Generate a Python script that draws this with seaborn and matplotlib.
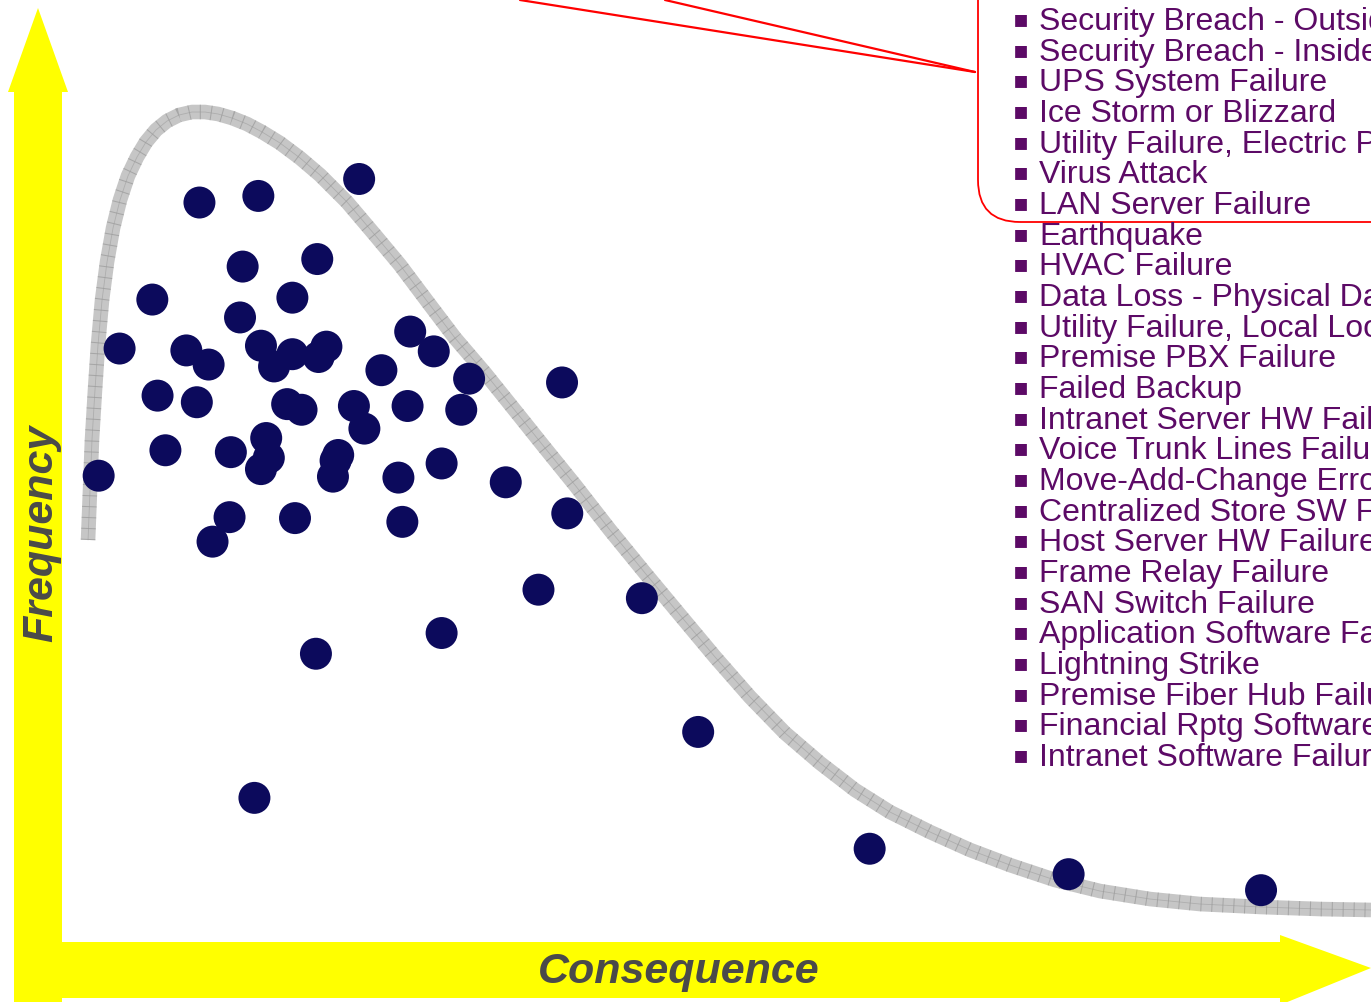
import matplotlib
matplotlib.use("Agg")
import matplotlib.pyplot as plt
from matplotlib.patches import Polygon, FancyBboxPatch
import pandas as pd
import seaborn as sns

# --- dados (consequencia x frequencia, escala 0-100) ---
consequence = [22.7, 10.5, 15.0, 13.8, 19.5, 6.9, 17.6, 13.6, 26.6, 4.4,
               9.5, 11.2, 15.2, 16.2, 17.6, 19.6, 20.2, 28.4, 24.4, 31.1,
               38.2, 7.3, 10.3, 17.2, 18.3, 22.3, 26.4, 30.5, 23.1, 15.6,
               7.9, 12.9, 15.8, 15.2, 21.1, 20.9, 20.7, 29.0, 25.7, 33.9,
               2.8, 12.8, 17.8, 11.5, 26.0, 38.6, 36.4, 44.3, 29.0, 19.4,
               48.6, 14.7, 61.7, 76.9, 91.6]
frequency = [81.0, 78.5, 79.2, 71.7, 72.5, 68.2, 68.4, 66.3, 64.8, 63.0,
             62.8, 61.3, 63.3, 61.1, 62.4, 62.1, 63.2, 62.7, 60.7, 59.8,
             59.4, 58.0, 57.3, 57.1, 56.5, 56.9, 56.9, 56.5, 54.5, 53.5,
             52.2, 52.0, 51.4, 50.2, 51.7, 51.1, 49.4, 50.8, 49.3, 48.8,
             49.5, 45.1, 45.0, 42.5, 44.6, 45.5, 37.4, 36.5, 32.8, 30.6,
             22.3, 15.3, 9.9, 7.2, 5.5]

# curva de tendencia (faixa cinza)
curve_x = [1.99, 2.14, 2.29, 2.52, 2.75, 3.06, 3.44, 3.90, 4.43, 5.04,
           5.73, 6.42, 7.18, 8.02, 8.94, 9.93, 10.92, 11.92, 12.99, 14.13,
           15.28, 16.65, 18.18, 19.71, 21.77, 23.91, 25.82, 27.88, 30.02,
           32.31, 34.76, 36.90, 39.19, 41.86, 44.54, 47.21, 49.89, 52.56,
           55.23, 57.91, 60.58, 63.25, 66.31, 69.37, 72.42, 75.86, 79.30,
           83.12, 86.94, 91.52, 96.10, 100.0]
curve_y = [42.68, 47.98, 53.29, 58.60, 63.38, 68.15, 72.19, 75.80, 78.77,
           81.32, 83.33, 84.93, 86.20, 87.15, 87.79, 88.11, 88.11, 87.90,
           87.47, 86.84, 85.99, 84.82, 83.23, 81.42, 78.56, 75.05, 71.87,
           68.05, 64.12, 60.40, 56.16, 52.44, 48.51, 43.74, 39.17, 34.71,
           30.25, 26.01, 22.19, 19.00, 16.14, 13.80, 11.68, 9.77, 8.17, 6.58,
           5.41, 4.56, 4.03, 3.72, 3.50, 3.40]

risks = ["Security Breach - Outside", "Security Breach - Inside",
         "UPS System Failure", "Ice Storm or Blizzard",
         "Utility Failure, Electric Power", "Virus Attack",
         "LAN Server Failure", "Earthquake", "HVAC Failure",
         "Data Loss - Physical Damage", "Utility Failure, Local Loop",
         "Premise PBX Failure", "Failed Backup", "Intranet Server HW Failure",
         "Voice Trunk Lines Failure", "Move-Add-Change Error",
         "Centralized Store SW Failure", "Host Server HW Failure",
         "Frame Relay Failure", "SAN Switch Failure",
         "Application Software Failure", "Lightning Strike",
         "Premise Fiber Hub Failure", "Financial Rptg Software Failure",
         "Intranet Software Failure"]

YELLOW = "#ffff00"
NAVY = "#0c0a5c"
PURPLE = "#5c0a66"
LABEL_GREY = "#4a4a4a"


def main():
    sns.set_theme(style="white")
    plt.rcParams["font.family"] = ["Liberation Sans", "DejaVu Sans"]

    W, H = 13.71, 10.02
    fig = plt.figure(figsize=(W, H), dpi=100)
    fig.patch.set_facecolor("white")
    inch = fig.dpi_scale_trans

    def yx(px, py):
        # pixel (topo-esquerda) -> polegadas
        return (px / 100, H - py / 100)

    # --- setas amarelas (eixos) ---
    y_arrow = [yx(14, 1002), yx(14, 92), yx(8, 92), yx(38, 8),
               yx(68, 92), yx(62, 92), yx(62, 1002)]
    x_arrow = [yx(14, 942), yx(1280, 942), yx(1280, 935), yx(1371, 968),
               yx(1280, 1005), yx(1280, 998), yx(14, 998)]
    for pts in (y_arrow, x_arrow):
        fig.patches.append(Polygon(pts, closed=True, facecolor=YELLOW,
                                   edgecolor="none", transform=inch, zorder=0))

    fig.text(41 / 1371, 1 - 533 / 1002, "Frequency", rotation=90,
             ha="center", va="center", fontsize=31, fontweight="bold",
             fontstyle="italic", color=LABEL_GREY)
    fig.text(679 / 1371, 1 - 972 / 1002, "Consequence",
             ha="center", va="center", fontsize=31, fontweight="bold",
             fontstyle="italic", color=LABEL_GREY)

    # --- area de dados ---
    ax = fig.add_axes([62 / 1371, 60 / 1002, 1309 / 1371, 942 / 1002])
    ax.set_xlim(0, 100)
    ax.set_ylim(0, 100)
    ax.set_axis_off()
    ax.patch.set_alpha(0)

    curve = pd.DataFrame({"x": curve_x, "y": curve_y})
    sns.lineplot(data=curve, x="x", y="y", sort=False, estimator=None,
                 color="#c6c6c6", linewidth=10.5, ax=ax, zorder=1,
                 solid_capstyle="butt", solid_joinstyle="round")
    # textura quadriculada da faixa
    ax.plot(curve_x, curve_y, color="#8c8c8c", linewidth=10.5, alpha=0.55,
            linestyle=(0, (0.07, 0.68)), dash_capstyle="butt", zorder=1.1)
    ax.plot(curve_x, curve_y, color="#9a9a9a", linewidth=0.6, alpha=0.55,
            zorder=1.2)

    pts = pd.DataFrame({"consequence": consequence, "frequency": frequency})
    sns.scatterplot(data=pts, x="consequence", y="frequency", s=530,
                    color=NAVY, edgecolor="none", ax=ax, zorder=3,
                    clip_on=False)

    # --- balao vermelho ---
    box = FancyBboxPatch((9.78, H - 2.22), 6.0, 4.0,
                         boxstyle="round,pad=0,rounding_size=0.42",
                         facecolor="none", edgecolor="#ff0000",
                         linewidth=1.3, transform=inch, zorder=4)
    fig.patches.append(box)
    tip = yx(975, 72)
    for start in (yx(520, 0), yx(665, 0)):
        fig.add_artist(plt.Line2D([start[0], tip[0]], [start[1], tip[1]],
                                  color="#ff0000", linewidth=1.6,
                                  transform=inch, zorder=4))

    # --- lista de riscos ---
    for i, name in enumerate(risks):
        base = 30 + 30.67 * i
        fig.text(1039 / 1371, 1 - base / 1002, name, ha="left",
                 va="baseline", fontsize=23, color=PURPLE, zorder=5)
        fig.text(1021 / 1371, 1 - (base - 11) / 1002, "\u25aa",
                 ha="center", va="center", fontsize=17, color=PURPLE,
                 family=["DejaVu Sans"], zorder=5)

    fig.savefig("out.png", dpi=100, facecolor="white")
    plt.close(fig)


if __name__ == "__main__":
    main()
